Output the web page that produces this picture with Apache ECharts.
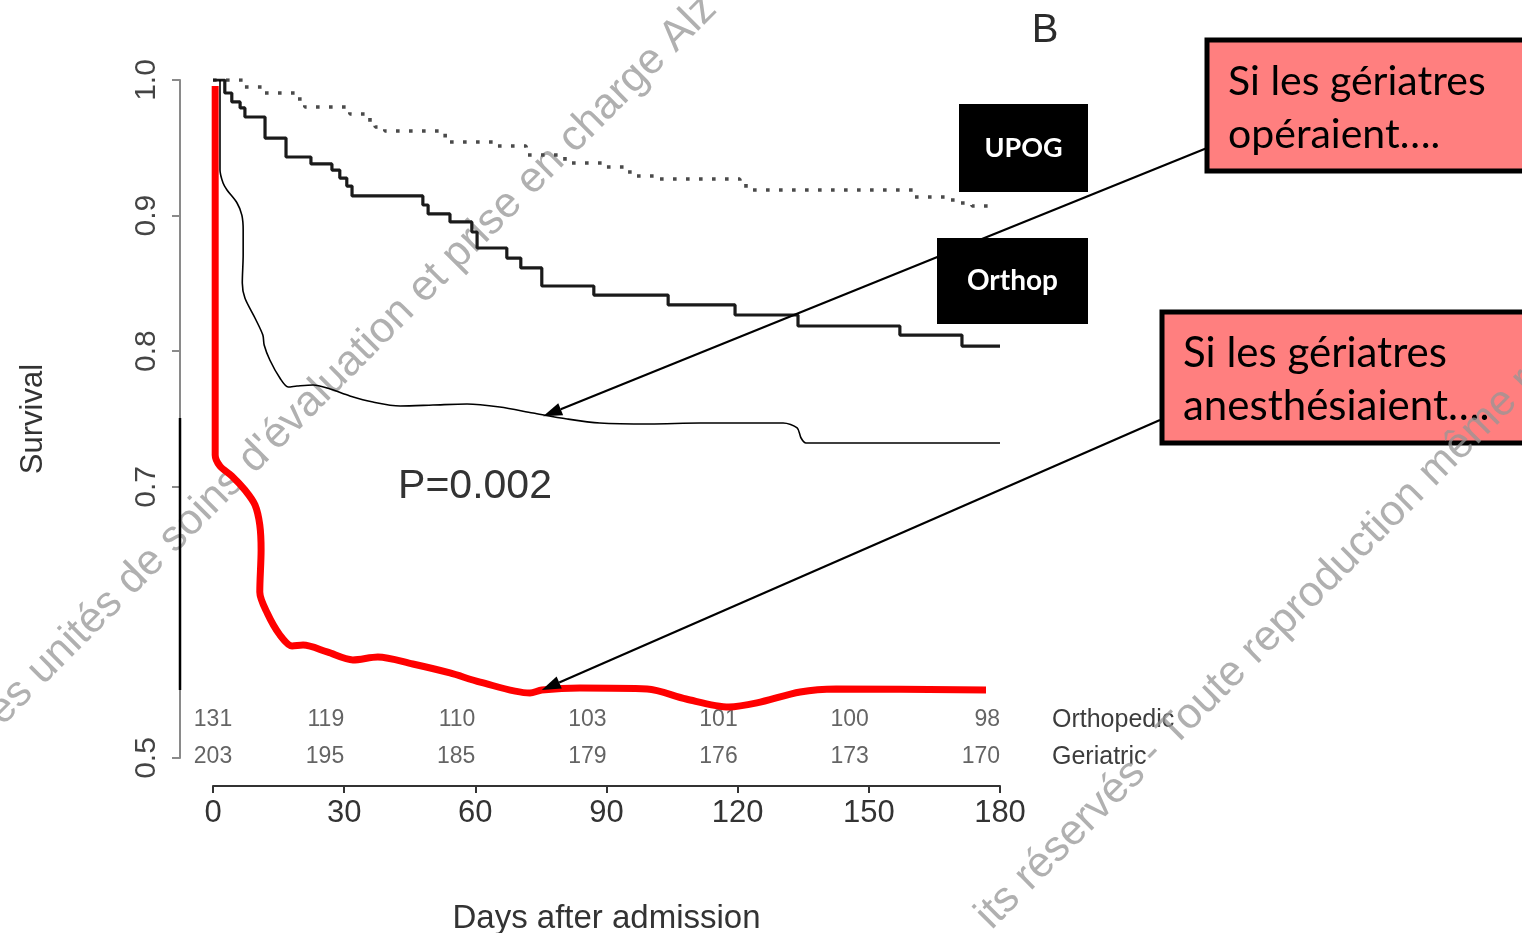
<!DOCTYPE html>
<html>
<head>
<meta charset="utf-8">
<script src="https://cdn.jsdelivr.net/npm/echarts@6/dist/echarts.min.js"></script>
<style>
  html, body { margin: 0; padding: 0; background: #fff; overflow: hidden; }
  #chart { width: 1522px; height: 933px; }
</style>
</head>
<body>
<div id="chart"></div>
<script>
// Axis ticks
const dayTicks = [0, 30, 60, 90, 120, 150, 180];
const survivalTicks = [0.5, 0.7, 0.8, 0.9, 1.0];

// Kaplan-Meier steps: [day, survival after the event]
const geriatricSteps = [
  [0, 1.0], [7.3, 0.9948], [11.2, 0.9904], [19.2, 0.986], [21.0, 0.9801],
  [31.3, 0.9749], [35.9, 0.969], [37.1, 0.9653], [39.3, 0.9624], [53.1, 0.9543],
  [64.0, 0.9513], [71.6, 0.9447], [80.5, 0.9388], [89.7, 0.9358], [94.9, 0.9322],
  [96.7, 0.9292], [101.6, 0.927], [120.5, 0.924], [121.9, 0.9204], [123.3, 0.9189],
  [160.1, 0.9137], [167.4, 0.9115], [170.4, 0.9093], [173.6, 0.9071], [177.7, 0.9071]
];
const orthopedicSteps = [
  [0, 1.0], [2.7, 0.9904], [4.3, 0.9838], [6.2, 0.9794], [7.3, 0.9727],
  [11.9, 0.9572], [16.7, 0.9432], [22.4, 0.9381], [27.2, 0.9336], [29.0, 0.9277],
  [30.6, 0.9218], [31.8, 0.9145], [48.0, 0.9078], [49.2, 0.9012], [54.2, 0.8953],
  [59.2, 0.8879], [60.4, 0.8761], [67.2, 0.8687], [70.4, 0.8614], [75.2, 0.8481],
  [87.1, 0.8414], [104.1, 0.8341], [119.4, 0.8267], [133.8, 0.8186], [157.1, 0.8119],
  [171.3, 0.8038], [180, 0.8038]
];

// Hand-drawn scenario curves
const ifOperating = [
  [1.6, 1.0], [1.6, 0.9336], [2.3, 0.924], [3.2, 0.9189], [5.5, 0.9093],
  [6.6, 0.9004], [6.9, 0.8894], [6.9, 0.8709], [6.7, 0.8503], [7.3, 0.8392],
  [9.6, 0.8245], [11.4, 0.8119], [11.7, 0.8046], [13.0, 0.7935], [15.3, 0.7802],
  [17.2, 0.7736], [19.2, 0.7743], [22.9, 0.7751], [26.8, 0.7721], [31.3, 0.767],
  [36.6, 0.7625], [42.8, 0.7596], [50.3, 0.7603], [58.1, 0.7611], [65.6, 0.7588],
  [73.2, 0.7544], [81.0, 0.75], [88.5, 0.747], [99.9, 0.7463], [111.4, 0.747],
  [130.4, 0.747], [133.6, 0.7434], [134.5, 0.736], [135.6, 0.7323], [138.8, 0.7323],
  [180, 0.7323]
];
const ifAnaesthetising = [
  [0.5, 0.9956], [0.5, 0.7345], [0.5, 0.7235], [1.6, 0.7153], [4.3, 0.708],
  [7.3, 0.6976], [9.6, 0.6866], [10.7, 0.6718], [11.0, 0.6534], [10.7, 0.6224],
  [12.4, 0.6069], [15.3, 0.5907], [18.1, 0.5826], [20.6, 0.5833], [26.1, 0.5782],
  [32.0, 0.5723], [37.7, 0.5745], [45.7, 0.5693], [54.2, 0.5627], [61.1, 0.556],
  [72.5, 0.5479], [75.2, 0.5501], [83.9, 0.5516], [99.3, 0.5509], [108.2, 0.5435],
  [118.0, 0.5376], [124.4, 0.5406], [134.3, 0.5487], [142.5, 0.5509], [176.8, 0.5501]
];

// Numbers at risk
const atRiskDays = [0, 30, 60, 90, 120, 150, 180];
const atRiskOrthopedic = [131, 119, 110, 103, 101, 100, 98];
const atRiskGeriatric = [203, 195, 185, 179, 176, 173, 170];

// Where the arrows point, in data units
const arrowOperating = [75.5, 0.752];
const arrowAnaesthetising = [75.2, 0.5501];

const AX_FONT = '"Liberation Sans", Arial, sans-serif';
const BOX_FONT = 'Lato, "Open Sans", sans-serif';

const chart = echarts.init(document.getElementById('chart'), null, { renderer: 'canvas' });

function riskRow(counts, rowY) {
  return counts.map((n, i) => ({
    value: [atRiskDays[i], rowY, n],
    label: { align: i === 0 ? 'center' : 'right' }
  }));
}

const riskLabel = {
  show: true,
  position: 'inside',
  formatter: p => String(p.value[2]),
  color: '#3d3d3d',
  fontSize: 23,
  fontFamily: AX_FONT,
  verticalAlign: 'middle'
};

chart.setOption({
  animation: false,
  backgroundColor: '#ffffff',
  grid: { left: 213, top: 80, right: 522, bottom: 175, containLabel: false, outerBoundsMode: 'none' },
  xAxis: {
    type: 'value', min: 0, max: 180, interval: 30, offset: 28,
    name: 'Days after admission', nameLocation: 'middle', nameGap: 116,
    nameTextStyle: { color: '#333', fontSize: 33, fontFamily: AX_FONT },
    axisLine: { onZero: false, lineStyle: { color: '#333', width: 2 } },
    axisTick: { length: 7, lineStyle: { color: '#333', width: 2 } },
    axisLabel: { color: '#333', fontSize: 31, fontFamily: AX_FONT, margin: 12,
      customValues: dayTicks },
    splitLine: { show: false }
  },
  yAxis: {
    type: 'value', min: 0.5, max: 1.0, interval: 0.1, offset: 33,
    name: 'Survival', nameLocation: 'middle', nameGap: 131,
    nameTextStyle: { color: '#333', fontSize: 31, fontFamily: AX_FONT },
    axisLine: { show: true, onZero: false, lineStyle: { color: '#8a8a8a', width: 2 } },
    axisTick: { show: true, length: 8, lineStyle: { color: '#8a8a8a', width: 2 },
      customValues: survivalTicks },
    axisLabel: { color: '#444', fontSize: 30, fontFamily: AX_FONT, rotate: 90, margin: 18,
      customValues: survivalTicks, formatter: v => v.toFixed(1) },
    splitLine: { show: false }
  },
  series: [
    {
      name: 'Geriatric', type: 'line', step: 'end', data: geriatricSteps,
      symbol: 'none', z: 3,
      lineStyle: { color: '#4a4a4a', width: 3.6, type: [3.6, 9.4], cap: 'butt' }
    },
    {
      name: 'Orthopedic', type: 'line', step: 'end', data: orthopedicSteps,
      symbol: 'none', z: 3,
      lineStyle: { color: '#1a1a1a', width: 3.2 }
    },
    {
      name: 'Si les gériatres opéraient', type: 'line', data: ifOperating,
      symbol: 'none', smooth: 0.3, z: 4,
      lineStyle: { color: '#000', width: 1.6 }
    },
    {
      name: 'Si les gériatres anesthésiaient', type: 'line', data: ifAnaesthetising,
      symbol: 'none', smooth: 0.3, z: 5,
      lineStyle: { color: '#ff0000', width: 7 }
    },
    {
      name: 'At risk, orthopedic', type: 'scatter', symbolSize: 0, clip: false,
      data: riskRow(atRiskOrthopedic, 0.528), label: riskLabel, silent: true
    },
    {
      name: 'At risk, geriatric', type: 'scatter', symbolSize: 0, clip: false,
      data: riskRow(atRiskGeriatric, 0.5007), label: riskLabel, silent: true
    }
  ]
});

// Annotations: arrows, boxes, labels
const px = v => chart.convertToPixel({ gridIndex: 0 }, v);

function arrow(from, tip) {
  const dx = tip[0] - from[0], dy = tip[1] - from[1];
  const len = Math.hypot(dx, dy);
  const ux = dx / len, uy = dy / len;
  const L = 19, W = 6.5;
  const bx = tip[0] - ux * L, by = tip[1] - uy * L;
  return [
    { type: 'line', z: 20, shape: { x1: from[0], y1: from[1], x2: bx, y2: by },
      style: { stroke: '#000', lineWidth: 2.2 } },
    { type: 'polygon', z: 20,
      shape: { points: [tip, [bx - uy * W, by + ux * W], [bx + uy * W, by - ux * W]] },
      style: { fill: '#000' } }
  ];
}

function darkBox(x, y, w, h, text, size) {
  return {
    type: 'group', z: 30,
    children: [
      { type: 'rect', shape: { x, y, width: w, height: h }, style: { fill: '#000' } },
      { type: 'text', x: x + w / 2, y: y + h / 2,
        style: { text, fill: '#fff', font: `bold ${size}px ${BOX_FONT}`,
          textAlign: 'center', textVerticalAlign: 'middle' } }
    ]
  };
}

function pinkBox(x, y, w, h, lines, tx, size) {
  return {
    type: 'group', z: 30,
    children: [
      { type: 'rect', shape: { x, y, width: w, height: h },
        style: { fill: '#ff7f7f', stroke: '#000', lineWidth: 5 } },
      { type: 'text', x: tx, y: y + h * 0.32,
        style: { text: lines[0], fill: '#000', font: `${size}px ${BOX_FONT}`,
          textAlign: 'left', textVerticalAlign: 'middle' } },
      { type: 'text', x: tx, y: y + h * 0.72,
        style: { text: lines[1], fill: '#000', font: `${size}px ${BOX_FONT}`,
          textAlign: 'left', textVerticalAlign: 'middle' } }
    ]
  };
}

const axisX = 213 - 33;
const breakTop = px([0, 0.7507])[1];
const breakBottom = px([0, 0.5501])[1];

chart.setOption({
  graphic: [
    // watermark lines
    { type: 'text', z: 0, x: -6, y: 718, rotation: Math.PI / 4,
      style: { text: "es unités de soins d'évaluation et prise en charge Alz",
        fill: '#b0b0b0', font: `43px ${AX_FONT}`, textAlign: 'left', textVerticalAlign: 'middle' } },
    { type: 'text', z: 40, x: 983, y: 922, rotation: Math.PI / 4,
      style: { text: 'its réservés - Toute reproduction même r',
        fill: 'rgba(150,150,150,0.75)', font: `43px ${AX_FONT}`, textAlign: 'left', textVerticalAlign: 'middle' } },
    // heavy segment over the survival axis
    { type: 'line', z: 10, shape: { x1: axisX, y1: breakTop, x2: axisX, y2: breakBottom },
      style: { stroke: '#000', lineWidth: 2.5 } },
    ...arrow([1207, 148], px(arrowOperating)),
    ...arrow([1160, 420], px(arrowAnaesthetising)),
    darkBox(959, 104, 129, 88, 'UPOG', 27),
    darkBox(937, 238, 151, 86, 'Orthop', 28),
    pinkBox(1207, 40, 322, 131, ['Si les gériatres', 'opéraient….'], 1228, 41),
    pinkBox(1162, 312, 367, 131, ['Si les gériatres', 'anesthésiaient….'], 1183, 42),
    { type: 'text', z: 15, x: 1045, y: 31,
      style: { text: 'B', fill: '#2b2b2b', font: `40px ${AX_FONT}`, textAlign: 'center', textVerticalAlign: 'middle' } },
    { type: 'text', z: 15, x: 475, y: 487,
      style: { text: 'P=0.002', fill: '#333', font: `41px ${AX_FONT}`, textAlign: 'center', textVerticalAlign: 'middle' } },
    { type: 'text', z: 15, x: 1052, y: 720,
      style: { text: 'Orthopedic', fill: '#3d3d3d', font: `25px ${AX_FONT}`, textAlign: 'left', textVerticalAlign: 'middle' } },
    { type: 'text', z: 15, x: 1052, y: 757,
      style: { text: 'Geriatric', fill: '#3d3d3d', font: `25px ${AX_FONT}`, textAlign: 'left', textVerticalAlign: 'middle' } }
  ]
});
</script>
</body>
</html>
